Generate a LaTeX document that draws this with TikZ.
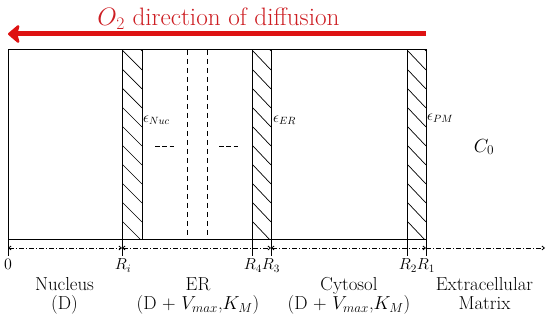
\RequirePackage{fix-cm}
\documentclass[tikz,border=0pt]{standalone}
\usetikzlibrary{arrows.meta}
\definecolor{arrowred}{RGB}{222,18,18}
\definecolor{titlered}{RGB}{205,30,35}
\tikzset{
  x=1pt,y=1pt,
  wall/.style={line width=1pt},
  hatchline/.style={line width=0.7pt},
  tickline/.style={line width=0.7pt},
  axisline/.style={line width=0.8pt,dash pattern=on 5pt off 2pt on 1pt off 2pt},
  biglabel/.style={font=\fontsize{18.8}{21}\selectfont,inner sep=0pt,anchor=base},
  rlabel/.style={font=\fontsize{16}{18}\selectfont,inner sep=0pt,anchor=base},
  elabel/.style={font=\fontsize{15}{17}\selectfont,inner sep=0pt,anchor=west},
  dtip/.tip={Straight Barb[length=2.5pt,width=4pt]},
}
\begin{document}
\begin{tikzpicture}
\useasboundingbox (0,0) rectangle (550,321);
% title and arrow
\node[font=\fontsize{25.2}{30}\selectfont,text=titlered,anchor=base,inner sep=0pt] (title) at (218.5,295) {$O_2$ direction of diffusion};
\coordinate (arrS) at (426,287);
\coordinate (arrE) at (8,287);
\draw[arrowred,line width=5pt,-{Stealth[length=13pt,width=22pt,inset=3pt,round]}] (arrS) -- (arrE);
% hatched membranes
\foreach \xl/\xr in {122/142,252/271,407/426}{
  \begin{scope}
    \clip (\xl,81) rectangle (\xr,271);
    \foreach \i in {-1,...,11}{
      \draw[hatchline] (\xl,271-19*\i) -- (\xr,271-19*\i-20);
    }
  \end{scope}
  \draw[wall] (\xl,81) -- (\xl,271);
  \draw[wall] (\xr,81) -- (\xr,271);
}
% outer box
\draw[wall] (8,81) rectangle (426,271);
% dashed ER lines
\draw[line width=0.8pt,dash pattern=on 5pt off 4pt] (187,271) -- (187,81);
\draw[line width=0.8pt,dash pattern=on 5pt off 4pt] (207,271) -- (207,81);
\draw[line width=0.8pt,dash pattern=on 4.5pt off 2.8pt] (155,175) -- (174,175);
\draw[line width=0.8pt,dash pattern=on 4.5pt off 2.8pt] (219,175) -- (239,175);
% labels in box
\node[elabel] (eNuc) at (143,201) {$\epsilon_{Nuc}$};
\node[elabel] (eER) at (273,201) {$\epsilon_{ER}$};
\node[elabel] (ePM) at (427,203) {$\epsilon_{PM}$};
\node[font=\fontsize{19}{21}\selectfont,inner sep=0pt] (C0) at (484,174) {$C_0$};
% ticks
\foreach \x in {8,122,252,271,407,426}{
  \draw[tickline] (\x,81) -- (\x,65);
}
% axis
\coordinate (a0) at (8,73);
\coordinate (ai) at (122,73);
\coordinate (a3) at (271,73);
\coordinate (a1) at (426,73);
\coordinate (aend) at (545,73);
\draw[axisline,dtip-dtip] (a0) -- (ai);
\draw[axisline,dtip-dtip] (ai) -- (a3);
\draw[axisline,dtip-dtip] (a3) -- (a1);
\draw[axisline,-dtip] (a1) -- (aend);
% radius labels
\node[rlabel] (l0) at (8,51) {$0$};
\node[rlabel] (lRi) at (123,51) {$R_i$};
\node[rlabel] (lR4) at (253,51) {$R_4$};
\node[rlabel] (lR3) at (271,51) {$R_3$};
\node[rlabel] (lR2) at (408,51) {$R_2$};
\node[rlabel] (lR1) at (426,51) {$R_1$};
% region labels
\node[biglabel] (nuc) at (64.5,30) {Nucleus};
\node[biglabel] (nucb) at (64.5,11) {(D)};
\node[biglabel] (er) at (198,30) {ER};
\node[biglabel] (erb) at (198,11) {(D $+$ $V_{max}$,$K_M$)};
\node[biglabel] (cyt) at (349,30) {Cytosol};
\node[biglabel] (cytb) at (349,11) {(D $+$ $V_{max}$,$K_M$)};
\node[biglabel] (ecm) at (484.5,30) {Extracellular};
\node[biglabel] (ecmb) at (484.5,11) {Matrix};
\end{tikzpicture}
\end{document}
